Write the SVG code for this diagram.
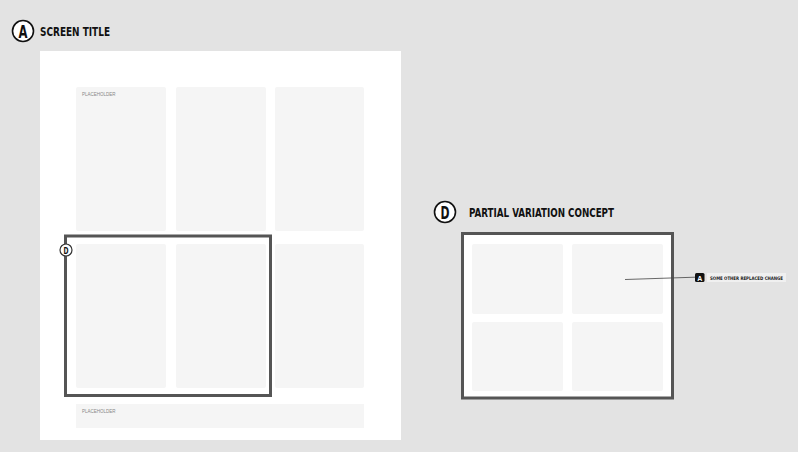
<svg xmlns="http://www.w3.org/2000/svg" width="798" height="452" viewBox="0 0 798 452">
<style>
.card{fill:#f5f5f5}
.frame{fill:none;stroke:#555;stroke-width:3}
.title{font-family:"DejaVu Sans Condensed","Liberation Sans",sans-serif;font-weight:bold;fill:#111}
.ph{font-family:"Liberation Sans",sans-serif;font-size:4.5px;fill:#888}
.badge{fill:#fff;stroke:#111;stroke-width:1.6}
</style>
<rect x="0" y="0" width="798" height="452" fill="#e3e3e3"/>
<g id="screen-title">
<circle class="badge" cx="23" cy="31" r="10.5"/>
<text class="title" x="18.5" y="37.5" font-size="17" textLength="9" lengthAdjust="spacingAndGlyphs">A</text>
<text class="title" x="40" y="35.5" font-size="13" textLength="70" lengthAdjust="spacingAndGlyphs">SCREEN TITLE</text>
</g>
<g id="screen">
<rect x="40" y="51" width="361" height="389" fill="#fff"/>
<rect class="card" x="76" y="87" width="90" height="144" rx="2"/>
<rect class="card" x="176" y="87" width="90" height="144" rx="2"/>
<rect class="card" x="275" y="87" width="89" height="144" rx="2"/>
<rect class="card" x="76" y="244" width="90" height="144" rx="2"/>
<rect class="card" x="176" y="244" width="90" height="144" rx="2"/>
<rect class="card" x="275" y="244" width="89" height="144" rx="2"/>
<rect class="card" x="76" y="404" width="288" height="24"/>
<text class="ph" x="82" y="96">PLACEHOLDER</text>
<text class="ph" x="82" y="413">PLACEHOLDER</text>
</g>
<g id="highlight-d">
<rect class="frame" x="65.5" y="236" width="205" height="159.5"/>
<circle cx="66" cy="250" r="6" fill="#fff" stroke="#333" stroke-width="1.2"/>
<text class="title" x="63.5" y="253.5" font-size="9" textLength="5" lengthAdjust="spacingAndGlyphs">D</text>
</g>
<g id="partial-variation">
<circle class="badge" cx="445" cy="212" r="10.5"/>
<text class="title" x="440.5" y="218.5" font-size="17" textLength="9" lengthAdjust="spacingAndGlyphs">D</text>
<text class="title" x="469" y="217" font-size="13" textLength="145" lengthAdjust="spacingAndGlyphs">PARTIAL VARIATION CONCEPT</text>
<rect x="462.5" y="233.5" width="210" height="164.5" fill="#fff" stroke="#555" stroke-width="3"/>
<rect class="card" x="472" y="244" width="91" height="70" rx="2"/>
<rect class="card" x="572" y="244" width="91" height="70" rx="2"/>
<rect class="card" x="472" y="322" width="91" height="69" rx="2"/>
<rect class="card" x="572" y="322" width="91" height="69" rx="2"/>
</g>
<g id="connectors">
<line x1="625" y1="279.5" x2="695" y2="277.2" stroke="#444" stroke-width="0.8"/>
</g>
<g id="annotation">
<rect x="695" y="273" width="9.5" height="9" rx="1.5" fill="#111"/>
<text x="699.7" y="280.5" font-family="Liberation Sans,sans-serif" font-weight="bold" font-size="7" fill="#fff" text-anchor="middle">A</text>
<rect x="707" y="273" width="79" height="9" fill="#f0f0f0"/>
<text x="710" y="279.5" font-family="DejaVu Sans Condensed,Liberation Sans,sans-serif" font-weight="bold" font-size="4.8" fill="#222" textLength="73" lengthAdjust="spacingAndGlyphs">SOME OTHER REPLACED CHANGE</text>
</g>
</svg>
